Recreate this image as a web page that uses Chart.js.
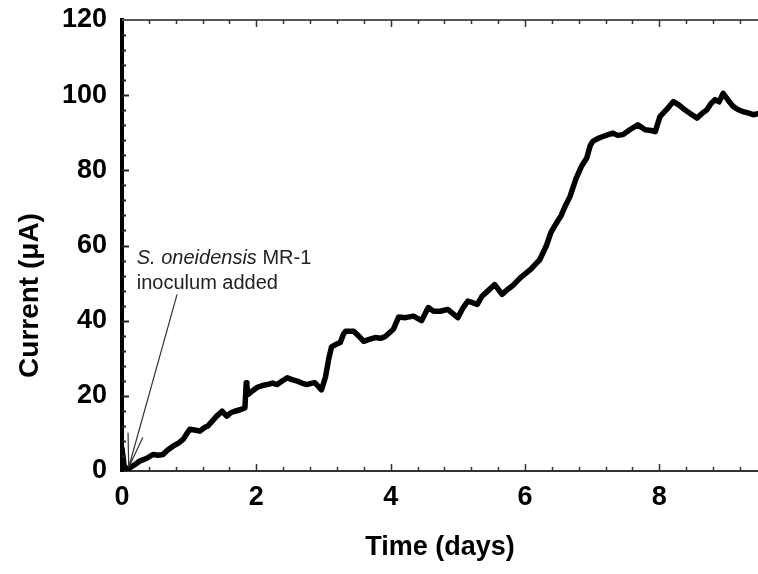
<!DOCTYPE html>
<html>
<head>
<meta charset="utf-8">
<script src="https://cdn.jsdelivr.net/npm/chart.js@4"></script>
<style>
  html, body { margin: 0; padding: 0; background: #fff; }
  #wrap { width: 758px; height: 574px; }
</style>
</head>
<body>
<div id="wrap"><canvas id="chart" width="758" height="574"></canvas></div>
<script>
// Time in days and current in microamps
const times = [0, 0.03, 0.08, 0.12, 0.2, 0.27, 0.37, 0.46, 0.54, 0.61,
  0.68, 0.76, 0.84, 0.91, 0.96, 1.01, 1.08, 1.16, 1.22, 1.28,
  1.35, 1.41, 1.49, 1.56, 1.62, 1.68, 1.76, 1.83, 1.85, 1.86,
  1.88, 1.94, 2.01, 2.08, 2.16, 2.24, 2.31, 2.39, 2.46, 2.53,
  2.61, 2.68, 2.75, 2.82, 2.87, 2.93, 2.97, 3.03, 3.08, 3.12,
  3.2, 3.25, 3.3, 3.33, 3.45, 3.52, 3.6, 3.68, 3.77, 3.85,
  3.92, 4.04, 4.12, 4.22, 4.34, 4.46, 4.56, 4.64, 4.74, 4.85,
  5.0, 5.08, 5.15, 5.22, 5.29, 5.36, 5.44, 5.55, 5.66, 5.74,
  5.81, 5.93, 6.08, 6.22, 6.32, 6.39, 6.47, 6.54, 6.6, 6.67,
  6.76, 6.84, 6.92, 6.97, 7.01, 7.09, 7.16, 7.24, 7.31, 7.38,
  7.46, 7.56, 7.68, 7.79, 7.88, 7.94, 8.01, 8.1, 8.21, 8.3,
  8.38, 8.47, 8.56, 8.64, 8.71, 8.77, 8.83, 8.89, 8.95, 9.02,
  9.1, 9.17, 9.25, 9.32, 9.4, 9.47];
const current = [6, 1.5, 0.3, 0.9, 1.8, 2.7, 3.4, 4.4, 4.2, 4.4,
  5.6, 6.6, 7.4, 8.4, 9.8, 11.1, 10.9, 10.6, 11.5, 12,
  13.4, 14.6, 15.9, 14.6, 15.5, 15.9, 16.3, 16.8, 23.5, 22.5,
  20.4, 21.3, 22.2, 22.7, 23, 23.4, 23, 24, 24.8, 24.3,
  23.9, 23.4, 23, 23.3, 23.5, 22.4, 21.6, 25, 30, 33,
  33.8, 34.2, 36.5, 37.2, 37.2, 36, 34.5, 35, 35.5, 35.3,
  35.8, 37.7, 41, 40.8, 41.2, 40, 43.5, 42.5, 42.5, 43,
  40.8, 43.5, 45.2, 44.8, 44.3, 46.5, 47.8, 49.6, 47, 48.3,
  49.2, 51.4, 53.6, 56.2, 60, 63.6, 66, 68, 70.5, 73,
  77.8, 81, 83.3, 86.5, 87.7, 88.5, 89, 89.5, 89.9, 89.3,
  89.5, 90.8, 92.1, 90.8, 90.6, 90.3, 94.3, 96, 98.3, 97.3,
  96.1, 95, 93.9, 95.2, 96.1, 97.8, 98.8, 98.2, 100.5, 98.8,
  97, 96.2, 95.6, 95.3, 94.8, 95.1];

// axis ranges and tick steps
const xMax = 9.47;
const xMajor = 2, xMinor = 0.4;
const yMax = 120;
const yMajor = 20, yMinor = 4;
const yTitle = 'Current (\u03bcA)';
const xTitle = 'Time (days)';

// annotation text and arrow (data units)
const noteLines = [["S. oneidensis", " MR-1"], ["inoculum added", ""]];
const noteAt = { x: 0.22, y: 56.6 };
const arrowTail = { x: 0.82, y: 47 };
const arrowTip = { x: 0.1, y: 1 };
const arrowBarbs = [{ x: 0.09, y: 10.2 }, { x: 0.31, y: 8.9 }];

const FONT = '"Liberation Sans", Arial, Helvetica, sans-serif';

const framePlugin = {
  id: 'frame',
  afterDraw(chart) {
    const ctx = chart.ctx;
    const a = chart.chartArea;
    const xs = chart.scales.x, ys = chart.scales.y;
    ctx.save();

    // top frame line
    ctx.strokeStyle = '#555';
    ctx.lineWidth = 2;
    ctx.beginPath();
    ctx.moveTo(a.left, a.top);
    ctx.lineTo(a.right, a.top);
    ctx.stroke();

    // inward ticks on top and bottom
    ctx.strokeStyle = '#333';
    ctx.lineWidth = 1.5;
    for (let i = 1; i * xMinor <= xMax; i++) {
      const v = i * xMinor;
      const major = Math.abs(v / xMajor - Math.round(v / xMajor)) < 1e-6;
      const len = major ? 7 : 4;
      const px = Math.round(xs.getPixelForValue(v)) + 0.5;
      ctx.beginPath();
      ctx.moveTo(px, a.bottom);
      ctx.lineTo(px, a.bottom - len);
      ctx.moveTo(px, a.top);
      ctx.lineTo(px, a.top + len);
      ctx.stroke();
    }
    // inward ticks on the left axis
    ctx.lineWidth = 2;
    ctx.strokeStyle = '#222';
    for (let i = 1; i * yMinor < yMax; i++) {
      const v = i * yMinor;
      const major = v % yMajor === 0;
      const len = major ? 7 : 4;
      const py = Math.round(ys.getPixelForValue(v)) + 0.5;
      ctx.beginPath();
      ctx.moveTo(a.left, py);
      ctx.lineTo(a.left + len, py);
      ctx.stroke();
    }

    // y axis title, sitting a bit below the middle as in the source figure
    ctx.save();
    ctx.translate(30, (a.top + a.bottom) / 2 + 50);
    ctx.rotate(-Math.PI / 2);
    ctx.font = 'bold 28px ' + FONT;
    ctx.fillStyle = '#000';
    ctx.textAlign = 'center';
    ctx.textBaseline = 'middle';
    ctx.fillText(yTitle, 0, 0);
    ctx.restore();

    // annotation
    ctx.fillStyle = '#222';
    ctx.textBaseline = 'middle';
    ctx.textAlign = 'left';
    const tx = xs.getPixelForValue(noteAt.x);
    const ty = ys.getPixelForValue(noteAt.y);
    noteLines.forEach((parts, i) => {
      const y = ty + i * 25;
      ctx.font = 'italic 20px ' + FONT;
      if (i === 0) {
        ctx.fillText(parts[0], tx, y);
        const w = ctx.measureText(parts[0]).width;
        ctx.font = '20px ' + FONT;
        ctx.fillText(parts[1], tx + w, y);
      } else {
        ctx.font = '20px ' + FONT;
        ctx.fillText(parts[0], tx, y);
      }
    });

    ctx.strokeStyle = '#333';
    ctx.lineWidth = 1.2;
    const tipX = xs.getPixelForValue(arrowTip.x), tipY = ys.getPixelForValue(arrowTip.y);
    ctx.beginPath();
    ctx.moveTo(xs.getPixelForValue(arrowTail.x), ys.getPixelForValue(arrowTail.y));
    ctx.lineTo(tipX, tipY);
    arrowBarbs.forEach(b => {
      ctx.moveTo(xs.getPixelForValue(b.x), ys.getPixelForValue(b.y));
      ctx.lineTo(tipX, tipY);
    });
    ctx.stroke();

    ctx.restore();
  }
};

new Chart(document.getElementById('chart'), {
  type: 'line',
  data: {
    datasets: [{
      data: times.map((t, i) => ({ x: t, y: current[i] })),
      borderColor: '#000',
      borderWidth: 5.5,
      borderJoinStyle: 'round',
      borderCapStyle: 'round',
      pointRadius: 0,
      tension: 0,
      fill: false
    }]
  },
  options: {
    responsive: false,
    animation: false,
    layout: { padding: { top: 20, left: 0, right: 0, bottom: 0 } },
    plugins: { legend: { display: false }, tooltip: { enabled: false } },
    scales: {
      x: {
        type: 'linear',
        min: 0,
        max: xMax,
        grid: { display: false, drawTicks: false },
        border: { display: true, color: '#333', width: 2 },
        ticks: {
          stepSize: xMajor,
          includeBounds: false,
          color: '#000',
          padding: 10,
          maxRotation: 0,
          font: { family: FONT, size: 27, weight: 'bold' }
        },
        title: {
          display: true,
          text: xTitle,
          color: '#000',
          padding: { top: 0, bottom: 10 },
          font: { family: FONT, size: 27, weight: 'bold' }
        },
        afterFit(scale) { scale.height = 103; }
      },
      y: {
        min: 0,
        max: yMax,
        grid: { display: false, drawTicks: false },
        border: { display: true, color: '#000', width: 4 },
        ticks: {
          stepSize: yMajor,
          color: '#000',
          padding: 15,
          font: { family: FONT, size: 27, weight: 'bold' }
        },
        afterFit(scale) {
          scale.width = 122;
          scale.paddingTop = 0;
          scale.paddingBottom = 0;
        }
      }
    }
  },
  plugins: [framePlugin]
});
</script>
</body>
</html>
